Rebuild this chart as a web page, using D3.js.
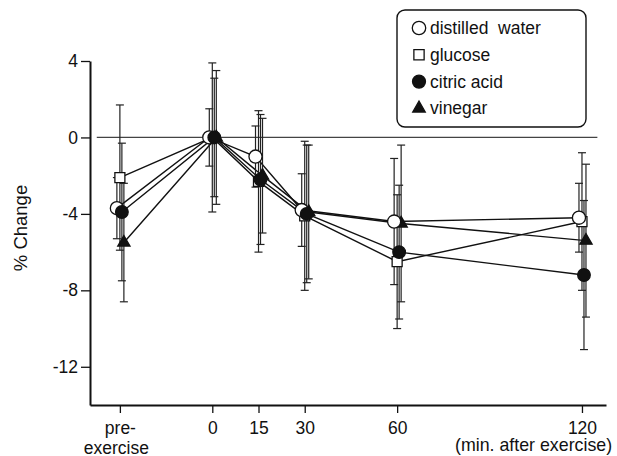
<!DOCTYPE html>
<html>
<head>
<meta charset="utf-8">
<script src="https://cdn.jsdelivr.net/npm/d3@7"></script>
<style>
  body { margin: 0; background: #fff; }
  svg { display: block; font-family: "Liberation Sans", Arial, sans-serif; }
</style>
</head>
<body>
<div id="chart"></div>
<script>
// time points (pre-exercise drawn at -30 min)
const timePoints = [-30, 0, 15, 30, 60, 120];
const tickLabels = ["pre-|exercise", "0", "15", "30", "60", "120"];
const yTicks = [4, 0, -4, -8, -12];
const seriesNames = ["distilled  water", "glucose", "citric acid", "vinegar"];

const waterMean = [-3.7, 0, -1.0, -3.8, -4.4, -4.2];
const waterSD   = [1.6, 1.5, 1.6, 1.9, 3.3, 1.8];
const glucoseMean = [-2.1, 0, -2.3, -4.1, -6.5, -4.4];
const glucoseSD   = [3.8, 3.9, 3.7, 3.9, 3.5, 3.6];
const citricMean = [-3.9, 0, -2.2, -4.0, -6.0, -7.2];
const citricSD   = [3.6, 3.1, 3.4, 3.6, 3.5, 3.9];
const vinegarMean = [-5.5, 0, -2.0, -3.9, -4.5, -5.4];
const vinegarSD   = [3.1, 3.5, 3.0, 3.5, 4.1, 4.0];

const W = 617, H = 456;
const svg = d3.select("#chart").append("svg").attr("width", W).attr("height", H);

const x = d3.scaleLinear().domain([-39.7, 127.8]).range([90, 606]);
const y = d3.scaleLinear().domain([-14, 4]).range([405, 61]);

const series = [
  { name: seriesNames[0], mean: waterMean, sd: waterSD, sym: d3.symbolCircle, size: 135, fill: "#fff", dx: -3 },
  { name: seriesNames[1], mean: glucoseMean, sd: glucoseSD, sym: d3.symbolSquare, size: 100, fill: "#fff", dx: 0 },
  { name: seriesNames[2], mean: citricMean, sd: citricSD, sym: d3.symbolCircle, size: 125, fill: "#111", dx: 2 },
  { name: seriesNames[3], mean: vinegarMean, sd: vinegarSD, sym: d3.symbolTriangle, size: 65, fill: "#111", dx: 4 }
];
series.forEach(s => {
  s.points = timePoints.map((t, i) => ({ t: t, v: s.mean[i], sd: s.sd[i] }));
});

// zero reference line
svg.append("line")
  .attr("x1", x(-37.5)).attr("x2", x(125))
  .attr("y1", y(0)).attr("y2", y(0))
  .attr("stroke", "#444").attr("stroke-width", 1.2);

// axes
const yAxis = d3.axisLeft(y).tickValues(yTicks).tickSize(9).tickSizeOuter(0).tickPadding(3)
  .tickFormat(d => String(d));
const gy = svg.append("g").attr("transform", "translate(90,0)").call(yAxis);
gy.select(".domain").attr("stroke", "#111").attr("stroke-width", 2);
gy.selectAll(".tick line").attr("stroke", "#111").attr("stroke-width", 1.3);
gy.selectAll(".tick text").attr("font-size", 17.5).attr("fill", "#111").attr("font-family", "Liberation Sans, Arial, sans-serif");

const xAxis = d3.axisBottom(x).tickValues(timePoints).tickSize(8).tickSizeOuter(0)
  .tickFormat((d, i) => tickLabels[i]);
const gx = svg.append("g").attr("transform", "translate(0,405)").call(xAxis);
gx.select(".domain").attr("stroke", "#111").attr("stroke-width", 2);
gx.selectAll(".tick line").attr("stroke", "#111").attr("stroke-width", 1.3);
gx.selectAll(".tick text").each(function(d, i) {
  const parts = tickLabels[i].split("|");
  const t = d3.select(this).text(null)
    .attr("y", 0).attr("dy", null)
    .attr("font-size", 17.5).attr("fill", "#111").attr("font-family", "Liberation Sans, Arial, sans-serif");
  parts.forEach((p, k) => {
    t.append("tspan").attr("x", k === 0 ? 0 : -4).attr("y", 29 + k * 20).text(p);
  });
});

svg.append("text")
  .attr("x", 455).attr("y", 451)
  .attr("font-size", 17.8).attr("fill", "#111")
  .text("(min. after exercise)");

svg.append("text")
  .attr("transform", "translate(27,228) rotate(-90)")
  .attr("text-anchor", "middle")
  .attr("font-size", 18.5).attr("fill", "#111")
  .text("% Change");

// connecting lines
const line = d3.line();
series.forEach(s => {
  svg.append("path")
    .attr("d", line(s.points.map(p => [x(p.t) + s.dx, y(p.v)])))
    .attr("fill", "none").attr("stroke", "#111").attr("stroke-width", 1.4);
});

// error bars
series.forEach(s => {
  const g = svg.append("g").attr("stroke", "#222").attr("stroke-width", 1.2);
  s.points.forEach(p => {
    const cx = x(p.t) + s.dx;
    const top = y(p.v + p.sd), bot = y(p.v - p.sd);
    g.append("line").attr("x1", cx).attr("x2", cx).attr("y1", top).attr("y2", bot);
    g.append("line").attr("x1", cx - 4).attr("x2", cx + 4).attr("y1", top).attr("y2", top);
    g.append("line").attr("x1", cx - 4).attr("x2", cx + 4).attr("y1", bot).attr("y2", bot);
  });
});

// markers (drawing order so overlaps look like the original)
const order = [1, 3, 0, 2];
order.forEach(k => {
  const s = series[k];
  svg.append("g").selectAll("path").data(s.points).join("path")
    .attr("transform", p => `translate(${x(p.t) + s.dx},${y(p.v)})`)
    .attr("d", d3.symbol().type(s.sym).size(s.size))
    .attr("fill", s.fill).attr("stroke", "#111").attr("stroke-width", 1.3);
});

// legend
const lg = svg.append("g");
lg.append("rect").attr("x", 397).attr("y", 10).attr("width", 189).attr("height", 117)
  .attr("rx", 8).attr("fill", "#fff").attr("stroke", "#111").attr("stroke-width", 1.4);
series.forEach((s, i) => {
  const cy = 28 + i * 26.8;
  lg.append("path").attr("transform", `translate(419,${cy})`)
    .attr("d", d3.symbol().type(s.sym).size(s.size * 1.05))
    .attr("fill", s.fill).attr("stroke", "#111").attr("stroke-width", 1.3);
  lg.append("text").attr("x", 430).attr("y", cy + 6)
    .attr("font-size", 17.5).attr("fill", "#111")
    .attr("xml:space", "preserve").style("white-space", "pre")
    .text(s.name);
});
</script>
</body>
</html>
